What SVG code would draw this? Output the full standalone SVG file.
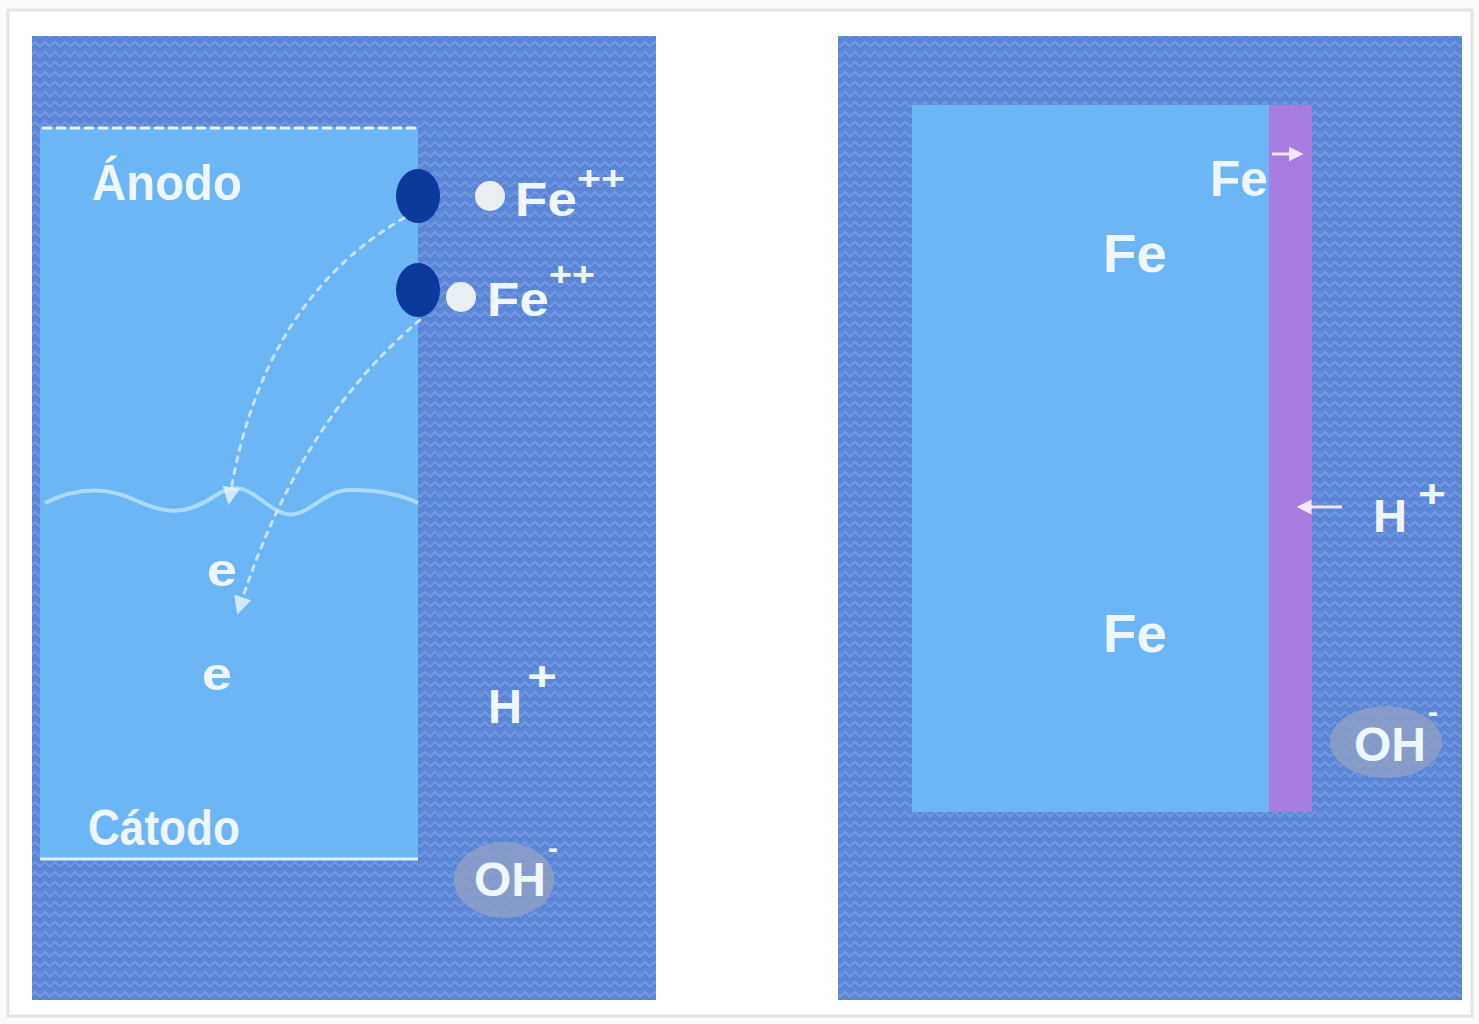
<svg xmlns="http://www.w3.org/2000/svg" width="1479" height="1024" viewBox="0 0 1479 1024">
  <style>
    .lbl { font-family: "Liberation Sans", Arial, sans-serif; font-weight: bold; fill: #eef6ff; }
    .sea { fill: url(#weave); }
    .metal { fill: #6db6f5; }
    .flow { fill: none; stroke: #d8ecff; stroke-width: 3; stroke-dasharray: 5 7; stroke-linecap: round; opacity: 0.85; }
    .ion-bg { fill: #8e9fc8; opacity: 0.85; }
  </style>
  <defs>
    <pattern id="weave" width="10" height="10" patternUnits="userSpaceOnUse">
      <rect width="10" height="10" fill="#5c87d6"/>
      <path d="M0,7 L5,2 L10,7" fill="none" stroke="#7fa3e6" stroke-width="1.6" opacity="0.7"/>
      <path d="M0,10 L5,5 L10,10" fill="none" stroke="#4c76c6" stroke-width="1" opacity="0.6"/>
    </pattern>
    <marker id="tip" viewBox="0 0 10 10" refX="5" refY="5" markerWidth="6" markerHeight="6" orient="auto">
      <path d="M0,0 L10,5 L0,10 Z" fill="#e4f2ff"/>
    </marker>
    <marker id="tip-pink" viewBox="0 0 10 10" refX="5" refY="5" markerWidth="5" markerHeight="5" orient="auto">
      <path d="M0,0 L10,5 L0,10 Z" fill="#f6e6ff"/>
    </marker>
  </defs>

  <!-- page frame -->
  <rect x="0" y="0" width="1479" height="1024" fill="#fbfbfa"/>
  <rect x="8" y="10" width="1464" height="1006" fill="#ffffff" stroke="#e4e4e2" stroke-width="3"/>

  <!-- left cell: anode / cathode -->
  <g id="panel-left">
    <rect class="sea" x="32" y="36" width="624" height="964"/>
    <rect class="metal" x="40" y="127" width="378" height="733"/>
    <line x1="42" y1="128" x2="418" y2="128" stroke="#e8f4ff" stroke-width="3" stroke-dasharray="10 4"/>
    <line x1="40" y1="859" x2="418" y2="859" stroke="#dff0ff" stroke-width="3"/>
    <path d="M45,503 C75,488 105,486 135,500 S185,516 215,496 S255,500 280,512 S320,490 350,490 S400,494 418,503" fill="none" stroke="#a9dcff" stroke-width="4"/>
  </g>

  <g id="label-anodo"><text class="lbl" x="92" y="200" font-size="50" textLength="150" lengthAdjust="spacingAndGlyphs">Ánodo</text></g>
  <g id="label-catodo"><text class="lbl" x="88" y="845" font-size="50" textLength="152" lengthAdjust="spacingAndGlyphs">Cátodo</text></g>

  <g id="site-1">
    <ellipse cx="418" cy="196" rx="22" ry="27" fill="#0a3a9c"/>
  </g>
  <g id="site-2">
    <ellipse cx="418" cy="290" rx="22" ry="27" fill="#0a3a9c"/>
  </g>

  <g id="ion-fe-1">
    <circle cx="490" cy="196" r="15" fill="#e9eef2"/>
    <text class="lbl" x="515" y="216" font-size="48" textLength="62" lengthAdjust="spacingAndGlyphs">Fe</text>
    <text class="lbl" x="577" y="190" font-size="34" textLength="48" lengthAdjust="spacingAndGlyphs">++</text>
  </g>
  <g id="ion-fe-2">
    <circle cx="461" cy="297" r="15" fill="#e9eef2"/>
    <text class="lbl" x="487" y="316" font-size="48" textLength="62" lengthAdjust="spacingAndGlyphs">Fe</text>
    <text class="lbl" x="549" y="286" font-size="34" textLength="46" lengthAdjust="spacingAndGlyphs">++</text>
  </g>

  <g id="electron-1"><text class="lbl" x="207" y="586" font-size="46" textLength="30" lengthAdjust="spacingAndGlyphs">e</text></g>
  <g id="electron-2"><text class="lbl" x="202" y="690" font-size="46" textLength="30" lengthAdjust="spacingAndGlyphs">e</text></g>

  <g id="ion-h-left">
    <text class="lbl" x="488" y="723" font-size="48" textLength="34" lengthAdjust="spacingAndGlyphs">H</text>
    <text class="lbl" x="527" y="690" font-size="40" textLength="30" lengthAdjust="spacingAndGlyphs">+</text>
  </g>
  <g id="ion-oh-left">
    <ellipse class="ion-bg" cx="504" cy="880" rx="50" ry="38"/>
    <text class="lbl" x="474" y="896" font-size="48" textLength="72" lengthAdjust="spacingAndGlyphs">OH</text>
    <text class="lbl" x="548" y="858" font-size="30">-</text>
  </g>

  <!-- right cell: iron with surface film -->
  <g id="panel-right">
    <rect class="sea" x="838" y="36" width="624" height="964"/>
    <rect class="metal" x="912" y="105" width="358" height="707"/>
    <rect x="1269" y="105" width="43" height="707" fill="#a77ddf"/>
  </g>

  <g id="label-fe-top"><text class="lbl" x="1210" y="196" font-size="50" textLength="58" lengthAdjust="spacingAndGlyphs">Fe</text></g>
  <g id="label-fe-mid"><text class="lbl" x="1103" y="272" font-size="54" textLength="64" lengthAdjust="spacingAndGlyphs">Fe</text></g>
  <g id="label-fe-low"><text class="lbl" x="1103" y="652" font-size="54" textLength="64" lengthAdjust="spacingAndGlyphs">Fe</text></g>

  <g id="ion-h-right">
    <text class="lbl" x="1373" y="532" font-size="46" textLength="34" lengthAdjust="spacingAndGlyphs">H</text>
    <text class="lbl" x="1418" y="507" font-size="38" textLength="28" lengthAdjust="spacingAndGlyphs">+</text>
  </g>
  <g id="ion-oh-right">
    <ellipse class="ion-bg" cx="1386" cy="742" rx="56" ry="36"/>
    <text class="lbl" x="1354" y="761" font-size="48" textLength="72" lengthAdjust="spacingAndGlyphs">OH</text>
    <text class="lbl" x="1428" y="722" font-size="30">-</text>
  </g>

  <!-- connectors -->
  <g id="connectors">
    <path class="flow" d="M404,218 Q262,300 230,496" marker-end="url(#tip)"/>
    <path class="flow" d="M420,320 Q300,420 240,606" marker-end="url(#tip)"/>
    <line x1="1272" y1="154" x2="1296" y2="154" stroke="#f4e2ff" stroke-width="3" marker-end="url(#tip-pink)"/>
    <line x1="1342" y1="507" x2="1304" y2="507" stroke="#f4e2ff" stroke-width="3" marker-end="url(#tip-pink)"/>
  </g>
</svg>
